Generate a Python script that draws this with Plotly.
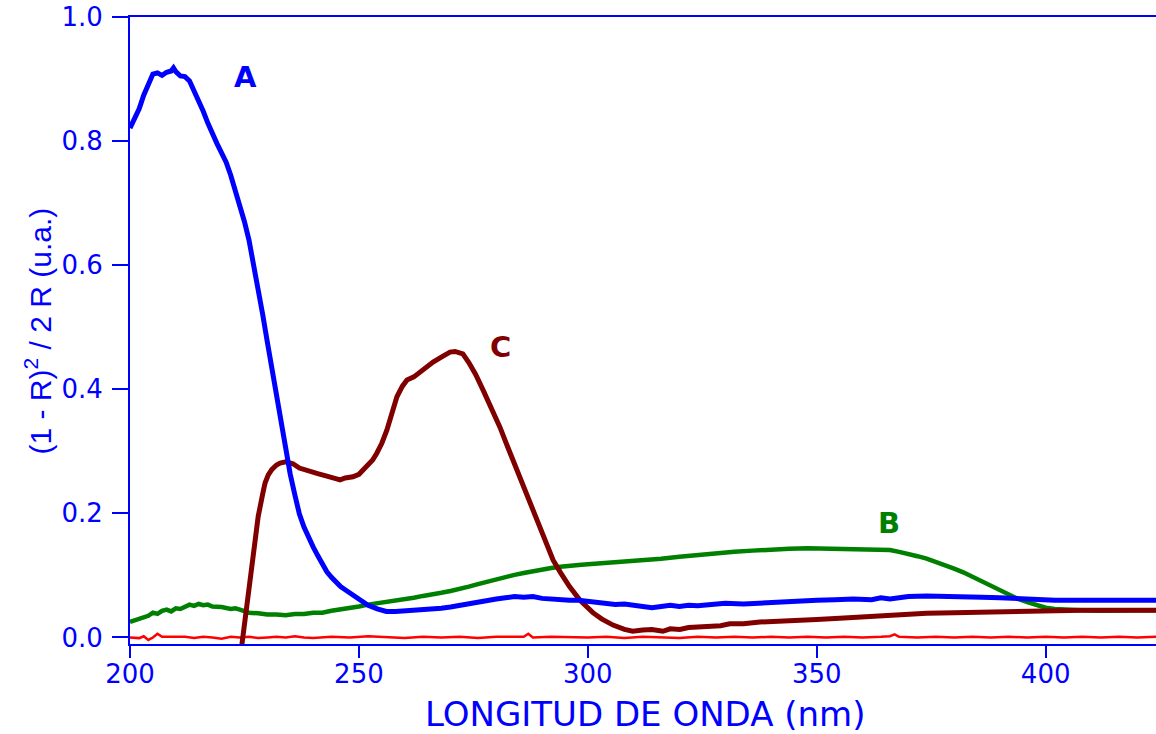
import plotly.graph_objects as go

# ---------------- data ----------------
wl_A = [200.0, 201.0, 202.0, 203.0, 204.0, 205.0, 206.0, 207.0, 208.0, 209.0, 209.5, 210.0,
        211.0, 212.0, 213.0, 214.0, 215.0, 216.0, 217.0, 218.0, 219.0, 220.0, 221.0, 222.0,
        223.0, 224.0, 225.0, 226.0, 227.0, 228.0, 229.0, 230.0, 231.0, 232.0, 233.0, 234.0,
        235.0, 236.0, 237.0, 238.0, 239.0, 240.0, 241.0, 242.0, 243.0, 244.0, 245.0, 246.0,
        247.0, 248.0, 249.0, 250.0, 252.0, 254.0, 256.0, 258.0, 260.0, 262.0, 264.0, 266.0,
        268.0, 270.0, 272.0, 274.0, 276.0, 278.0, 280.0, 282.0, 284.0, 286.0, 288.0, 290.0,
        292.0, 294.0, 296.0, 298.0, 300.0, 302.0, 304.0, 306.0, 308.0, 310.0, 312.0, 314.0,
        316.0, 318.0, 320.0, 322.0, 324.0, 326.0, 328.0, 330.0, 334.0, 338.0, 342.0, 346.0,
        350.0, 354.0, 358.0, 362.0, 364.0, 366.0, 370.0, 374.0, 378.0, 382.0, 386.0, 390.0,
        394.0, 398.0, 402.0, 406.0, 410.0, 414.0, 418.0, 424.1]
val_A = [0.821, 0.835, 0.852, 0.874, 0.893, 0.908, 0.910, 0.906, 0.911, 0.913, 0.918, 0.912,
         0.905, 0.904, 0.897, 0.881, 0.866, 0.848, 0.829, 0.811, 0.796, 0.781, 0.766, 0.745,
         0.722, 0.697, 0.670, 0.640, 0.603, 0.562, 0.520, 0.476, 0.432, 0.389, 0.345, 0.302,
         0.263, 0.230, 0.199, 0.178, 0.160, 0.146, 0.132, 0.118, 0.106, 0.097, 0.089, 0.082,
         0.077, 0.072, 0.067, 0.062, 0.052, 0.046, 0.042, 0.042, 0.043, 0.042, 0.045, 0.045,
         0.047, 0.049, 0.052, 0.055, 0.057, 0.059, 0.062, 0.064, 0.066, 0.065, 0.066, 0.063,
         0.062, 0.059, 0.060, 0.060, 0.058, 0.057, 0.056, 0.053, 0.054, 0.052, 0.050, 0.048,
         0.050, 0.052, 0.050, 0.052, 0.051, 0.052, 0.054, 0.055, 0.054, 0.056, 0.057, 0.059,
         0.060, 0.061, 0.062, 0.061, 0.064, 0.062, 0.066, 0.067, 0.067, 0.066, 0.065, 0.064,
         0.062, 0.061, 0.060, 0.060, 0.060, 0.060, 0.060, 0.060]

wl_B = [200, 202, 204, 205, 206, 207, 208, 209, 210, 211, 212, 213, 214, 215, 216, 217, 218,
        220, 222, 223, 224, 226, 228, 230, 232, 234, 236, 238, 240, 242, 244, 246, 248, 250,
        252, 254, 256, 258, 260, 262, 264, 266, 268, 270, 272, 274, 276, 278, 280, 282, 284,
        286, 288, 290, 292, 294, 296, 298, 300, 304, 308, 312, 316, 320, 324, 328, 332, 336,
        340, 344, 348, 352, 356, 360, 364, 366, 368, 370, 372, 374, 376, 378, 380, 382, 384,
        386, 388, 390, 392, 394, 396, 398, 400, 402, 404, 408, 412, 416, 420, 424.1]
val_B = [0.025, 0.030, 0.035, 0.040, 0.038, 0.043, 0.045, 0.042, 0.047, 0.046, 0.050, 0.053,
         0.051, 0.054, 0.052, 0.053, 0.050, 0.049, 0.046, 0.047, 0.045, 0.040, 0.039, 0.037,
         0.037, 0.036, 0.038, 0.038, 0.040, 0.040, 0.043, 0.045, 0.047, 0.050, 0.053, 0.055,
         0.057, 0.059, 0.061, 0.064, 0.067, 0.069, 0.072, 0.075, 0.078, 0.082, 0.086, 0.090,
         0.093, 0.097, 0.101, 0.104, 0.107, 0.110, 0.112, 0.114, 0.116, 0.117, 0.118, 0.120,
         0.123, 0.125, 0.127, 0.130, 0.133, 0.136, 0.138, 0.140, 0.142, 0.143, 0.144, 0.143,
         0.143, 0.142, 0.140, 0.141, 0.138, 0.135, 0.131, 0.127, 0.122, 0.116, 0.111, 0.105,
         0.098, 0.091, 0.083, 0.075, 0.068, 0.062, 0.057, 0.052, 0.048, 0.046, 0.045, 0.044,
         0.043, 0.044, 0.044, 0.044]

wl_C = [224.45, 225.1, 226.2, 227.3, 228.0, 229.0, 229.5, 230.2, 231.0, 232.0, 232.8, 234.0,
        235.6, 237.0, 239.3, 241.0, 243.0, 245.0, 245.9, 247.0, 248.7, 250.0, 251.7, 253.0,
        253.9, 255.0, 256.1, 257.2, 258.3, 259.5, 260.5, 262.0, 263.3, 265.0, 266.2, 268.0,
        269.9, 271.0, 272.7, 274.0, 275.5, 277.1, 279.0, 280.8, 282.5, 284.5, 286.0, 288.0,
        290.0, 292.4, 294.0, 296.0, 298.3, 300.0, 301.1, 303.0, 305.5, 308.0, 309.8, 312.0,
        314.0, 316.4, 318.0, 320.1, 322.0, 324.0, 327.3, 329.0, 331.0, 334.0, 337.6, 342.0,
        346.0, 350.0, 355.0, 359.4, 364.0, 368.0, 374.0, 380.0, 386.0, 390.0, 395.9, 402.0,
        408.0, 414.0, 420.0, 424.1]
val_C = [-0.011, 0.028, 0.093, 0.157, 0.195, 0.232, 0.249, 0.262, 0.271, 0.278, 0.281, 0.283,
         0.280, 0.273, 0.267, 0.264, 0.260, 0.256, 0.254, 0.257, 0.259, 0.263, 0.275, 0.286,
         0.297, 0.313, 0.334, 0.360, 0.388, 0.405, 0.415, 0.420, 0.428, 0.436, 0.444, 0.452,
         0.460, 0.461, 0.457, 0.443, 0.424, 0.399, 0.370, 0.339, 0.307, 0.270, 0.243, 0.206,
         0.170, 0.125, 0.105, 0.082, 0.060, 0.048, 0.040, 0.030, 0.020, 0.013, 0.010, 0.012,
         0.013, 0.010, 0.014, 0.013, 0.016, 0.017, 0.017, 0.019, 0.022, 0.022, 0.025, 0.026,
         0.028, 0.029, 0.031, 0.033, 0.035, 0.037, 0.039, 0.040, 0.041, 0.042, 0.043, 0.043,
         0.044, 0.044, 0.044, 0.044]

wl_ref = [200, 202, 203, 204, 205, 206, 207, 208, 210, 212, 214, 216, 218, 220, 222, 224,
          226, 228, 230, 232, 234, 236, 238, 240, 244, 248, 252, 256, 260, 264, 268, 272,
          276, 280, 284, 286, 287, 288, 292, 296, 300, 304, 308, 312, 316, 320, 324, 328,
          332, 336, 340, 344, 348, 352, 356, 360, 364, 366, 367, 368, 372, 376, 380, 384,
          388, 392, 396, 400, 404, 408, 412, 416, 420, 424.1]
val_ref = [0.000, -0.001, 0.002, -0.004, 0.000, 0.006, 0.001, 0.001, 0.000, 0.001, -0.001,
           0.001, 0.000, -0.002, 0.001, 0.000, 0.001, -0.001, 0.000, 0.001, 0.000, 0.002,
           0.000, -0.001, 0.001, 0.000, 0.002, 0.000, -0.001, 0.001, 0.000, 0.001, -0.001,
           0.001, 0.001, 0.001, 0.006, 0.000, 0.001, 0.000, 0.000, 0.001, -0.001, 0.001,
           0.000, -0.001, 0.001, 0.000, 0.001, 0.000, 0.001, 0.000, 0.001, 0.000, 0.001,
           0.000, 0.001, 0.002, 0.005, 0.001, 0.000, 0.001, 0.000, 0.001, 0.000, 0.001,
           0.000, 0.001, 0.000, 0.001, 0.000, 0.001, 0.000, 0.001]

x_ticks = [200, 250, 300, 350, 400]
y_ticks = [0.0, 0.2, 0.4, 0.6, 0.8, 1.0]
y_tick_text = ["0.0", "0.2", "0.4", "0.6", "0.8", "1.0"]

labels = ["A", "B", "C"]
label_x = [225.3, 365.7, 280.9]
label_y = [0.903, 0.1845, 0.468]

BLUE = "#0000FF"
GREEN = "#008000"
MAROON = "#800000"
RED = "#FF0000"

fig = go.Figure()
fig.add_trace(go.Scatter(x=wl_ref, y=val_ref, mode="lines",
                         line=dict(color=RED, width=2.5), showlegend=False))
fig.add_trace(go.Scatter(x=wl_B, y=val_B, mode="lines",
                         line=dict(color=GREEN, width=4.5), showlegend=False))
fig.add_trace(go.Scatter(x=wl_C, y=val_C, mode="lines",
                         line=dict(color=MAROON, width=5), showlegend=False))
fig.add_trace(go.Scatter(x=wl_A, y=val_A, mode="lines",
                         line=dict(color=BLUE, width=5), showlegend=False))

for t, lx, ly, c in zip(labels, label_x, label_y, [BLUE, GREEN, MAROON]):
    fig.add_annotation(x=lx, y=ly, text="<b>%s</b>" % t, showarrow=False,
                       font=dict(family="DejaVu Sans", size=29, color=c),
                       xanchor="center", yanchor="middle")

fig.add_annotation(xref="paper", yref="paper", x=-0.0897, y=0.5,
                   text="(1 - R)<sup>2</sup> / 2 R (u.a.)", textangle=-90, showarrow=False,
                   font=dict(family="Liberation Sans, Arial", size=30, color=BLUE),
                   xanchor="center", yanchor="middle")
fig.add_annotation(xref="paper", yref="paper", x=0.502, y=-0.112,
                   text="LONGITUD DE ONDA (nm)", showarrow=False,
                   font=dict(family="DejaVu Sans", size=34, color=BLUE),
                   xanchor="center", yanchor="middle")

fig.update_xaxes(range=[200, 424.1], tickvals=x_ticks, ticks="outside", ticklen=12,
                 tickwidth=2, tickcolor=BLUE, showline=True, linecolor=BLUE, linewidth=2,
                 mirror=True, showgrid=False, zeroline=False, ticklabelstandoff=-6,
                 tickfont=dict(family="DejaVu Sans", size=26, color=BLUE))
fig.update_yaxes(range=[-0.0105, 1.0], tickvals=y_ticks, ticktext=y_tick_text,
                 ticks="outside", ticklen=16, tickwidth=2, tickcolor=BLUE, showline=True,
                 linecolor=BLUE, linewidth=2, showgrid=False, zeroline=False,
                 ticklabelstandoff=4,
                 tickfont=dict(family="DejaVu Sans", size=26, color=BLUE))

fig.update_layout(width=1156, height=734, margin=dict(l=130, r=0, t=17, b=90),
                  plot_bgcolor="white", paper_bgcolor="white")

fig.write_html("out.html")
